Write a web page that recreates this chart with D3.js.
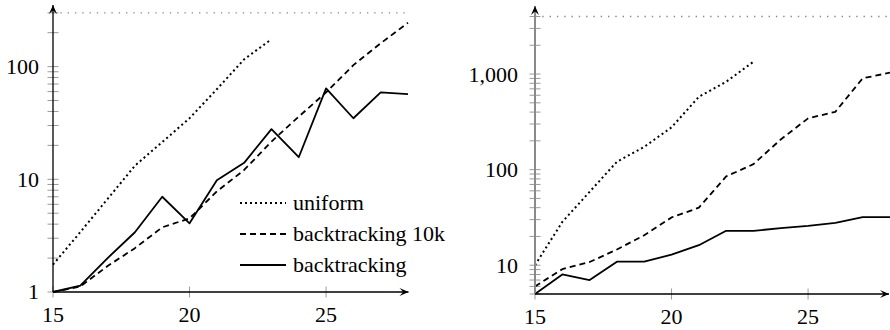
<!DOCTYPE html>
<html>
<head>
<meta charset="utf-8">
<script src="https://cdn.jsdelivr.net/npm/d3@7"></script>
<style>
  html, body { margin: 0; padding: 0; background: #fff; }
  svg { display: block; }
  text { font-family: "Liberation Serif", "DejaVu Serif", serif; font-size: 22px; fill: #000; }
</style>
</head>
<body>
<svg id="chart" width="890" height="330"></svg>
<script>
// Problem sizes on the x axis
const sizes = [15, 16, 17, 18, 19, 20, 21, 22, 23, 24, 25, 26, 27, 28];

// Left panel series
const leftUniform = [1.75, 3.4, 6.7, 13.2, 21.4, 34.8, 63, 116, 175];
const leftBacktracking10k = [1, 1.12, 1.7, 2.45, 3.75, 4.5, 7.8, 12.1, 21.6, 36, 59, 103, 161, 245];
const leftBacktracking = [1, 1.14, 2.0, 3.39, 7.0, 4.07, 9.8, 14.0, 27.9, 15.7, 64, 34.8, 59, 57];
const leftTimeout = 300;

// Right panel series
const rightUniform = [10, 28.4, 58.6, 121, 173, 277, 578, 830, 1345];
const rightBacktracking10k = [6.0, 9.1, 10.8, 14.6, 20.6, 31.6, 40, 85, 114, 207, 344, 403, 902, 1033];
const rightBacktracking = [5, 8.0, 7.0, 10.9, 10.9, 12.9, 16.2, 22.9, 22.9, 24.4, 25.8, 27.7, 31.8, 31.8];
const rightTimeout = 4000;

// Tick values and labels
const xTickValues = [15, 20, 25];
const leftYTicks = [1, 2, 3, 4, 5, 6, 7, 8, 9, 10, 20, 30, 40, 50, 60, 70, 80, 90, 100, 200, 300];
const leftYLabels = [1, 10, 100];
const rightYTicks = [5, 6, 7, 8, 9, 10, 20, 30, 40, 50, 60, 70, 80, 90, 100, 200, 300, 400, 500, 600, 700, 800, 900, 1000, 2000, 3000, 4000];
const rightYLabels = [10, 100, 1000];

const legendNames = ["uniform", "backtracking 10k", "backtracking"];

const svg = d3.select("#chart");

svg.append("defs").append("marker")
  .attr("id", "arrow")
  .attr("viewBox", "-10 -5 11 10")
  .attr("refX", 0).attr("refY", 0)
  .attr("markerWidth", 11).attr("markerHeight", 10)
  .attr("markerUnits", "userSpaceOnUse")
  .attr("orient", "auto")
  .append("path")
  .attr("d", "M0,0 L-9,-4 Q-6,-1 -5.5,0 Q-6,1 -9,4 Z")
  .attr("fill", "#000");

const styles = {
  uniform: { dash: "2,3", width: 2 },
  bt10k: { dash: "6,4", width: 1.8 },
  bt: { dash: null, width: 1.8 }
};

function drawPanel(cfg) {
  const g = svg.append("g");
  const x = d3.scaleLinear().domain([15, 28]).range(cfg.xRange);
  const y = d3.scaleLog().domain(cfg.yDomain).range(cfg.yRange);
  const x0 = x(15), yBase = y(cfg.yDomain[0]);

  // timeout reference line
  g.append("line")
    .attr("x1", x0).attr("x2", x(28))
    .attr("y1", y(cfg.timeout)).attr("y2", y(cfg.timeout))
    .attr("stroke", "#8a8a8a").attr("stroke-width", 1.3)
    .attr("stroke-dasharray", "1.4,5.9");

  // y ticks
  const yAxis = d3.axisLeft(y).tickValues(cfg.yTicks).tickSize(0).tickFormat("");
  g.append("g").attr("transform", `translate(${x0},0)`).call(yAxis)
    .call(a => a.select(".domain").remove());
  g.selectAll(".ytick").data(cfg.yTicks).join("line")
    .attr("x1", x0 - 5.5).attr("x2", x0 + 5.5)
    .attr("y1", d => y(d)).attr("y2", d => y(d))
    .attr("stroke", "#9a9a9a").attr("stroke-width", 1);

  // y labels
  g.selectAll(".ylab").data(cfg.yLabels).join("text")
    .attr("x", x0 - cfg.labelGap).attr("y", d => y(d))
    .attr("dy", "0.34em").attr("text-anchor", "end")
    .text(d => d3.format(",")(d));

  // x ticks and labels
  g.selectAll(".xtick").data(xTickValues).join("line")
    .attr("x1", d => x(d)).attr("x2", d => x(d))
    .attr("y1", yBase - 5.5).attr("y2", yBase + 5.5)
    .attr("stroke", "#9a9a9a").attr("stroke-width", 1);
  g.selectAll(".xlab").data(xTickValues).join("text")
    .attr("x", d => x(d)).attr("y", yBase + 30)
    .attr("text-anchor", "middle")
    .text(d => d);

  // series
  const line = d3.line().x((d, i) => x(sizes[i])).y(d => y(d));
  cfg.series.forEach(s => {
    const st = styles[s.key];
    g.append("path").datum(s.values)
      .attr("d", line)
      .attr("fill", "none").attr("stroke", "#000")
      .attr("stroke-width", st.width)
      .attr("stroke-linejoin", "round")
      .attr("stroke-dasharray", st.dash);
  });

  // axes with arrows
  g.append("line")
    .attr("x1", x0).attr("x2", x0)
    .attr("y1", yBase).attr("y2", cfg.yRange[1])
    .attr("stroke", cfg.yAxisColor).attr("stroke-width", cfg.yAxisWidth)
    .attr("marker-end", "url(#arrow)");
  g.append("line")
    .attr("x1", x0).attr("x2", Math.min(x(28) + 0.5, 889))
    .attr("y1", yBase).attr("y2", yBase)
    .attr("stroke", "#000").attr("stroke-width", 1.3)
    .attr("marker-end", "url(#arrow)");

  return { x, y };
}

drawPanel({
  xRange: [53, 408],
  yDomain: [1, 352],
  yRange: [292, 5],
  yTicks: leftYTicks,
  yLabels: leftYLabels,
  labelGap: 14,
  timeout: leftTimeout,
  yAxisColor: "#000",
  yAxisWidth: 1.3,
  series: [
    { key: "uniform", values: leftUniform },
    { key: "bt10k", values: leftBacktracking10k },
    { key: "bt", values: leftBacktracking }
  ]
});

drawPanel({
  xRange: [535, 890],
  yDomain: [5, 5150],
  yRange: [294, 6],
  yTicks: rightYTicks,
  yLabels: rightYLabels,
  labelGap: 17,
  timeout: rightTimeout,
  yAxisColor: "#8a8a8a",
  yAxisWidth: 2,
  series: [
    { key: "uniform", values: rightUniform },
    { key: "bt10k", values: rightBacktracking10k },
    { key: "bt", values: rightBacktracking }
  ]
});

// legend
const legendKeys = ["uniform", "bt10k", "bt"];
const legend = svg.append("g").attr("transform", "translate(240,203)");
legendNames.forEach((name, i) => {
  const st = styles[legendKeys[i]];
  const row = legend.append("g").attr("transform", `translate(0,${i * 31})`);
  row.append("line")
    .attr("x1", 0).attr("x2", 46).attr("y1", 0).attr("y2", 0)
    .attr("stroke", "#000").attr("stroke-width", st.width)
    .attr("stroke-dasharray", st.dash);
  row.append("text").attr("x", 53).attr("y", 0).attr("dy", "0.32em").text(name);
});
</script>
</body>
</html>
